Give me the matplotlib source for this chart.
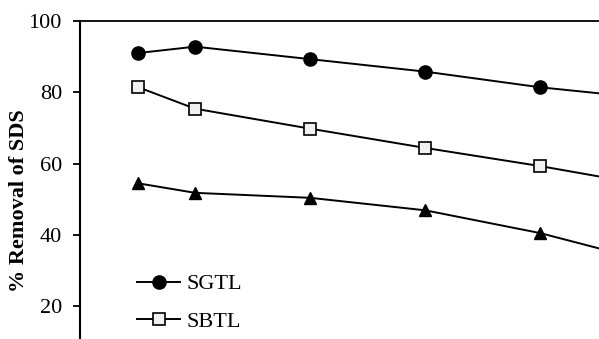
import numpy as np
import matplotlib
matplotlib.use('Agg')
import matplotlib.pyplot as plt

plt.rcParams['font.family'] = ['Liberation Serif', 'DejaVu Serif']

# x positions of the measurements (last one lies outside the visible crop)
dose = [5, 10, 20, 30, 40, 50]
sgtl = [91.0, 92.8, 89.3, 85.8, 81.4, 78.1]
sbtl = [81.5, 75.4, 69.8, 64.4, 59.3, 53.6]
third = [54.5, 51.8, 50.4, 46.9, 40.5, 32.1]
labels = ['SGTL', 'SBTL']
yticks = [20, 40, 60, 80, 100]

fig = plt.figure(figsize=(5.99, 3.39), dpi=100)
ax = fig.add_axes([80/599, 0, 1 - 80/599, 1 - 21/339])

ax.plot(dose, sgtl, '-o', color='black', lw=1.4, ms=9.5, label=labels[0])
ax.plot(dose, sbtl, '-s', color='black', lw=1.4, ms=8, mfc='#f0f0f0',
        mec='black', mew=1.2, label=labels[1])
# third series: its legend entry falls below the visible crop
ax.plot(dose, third, '-^', color='black', lw=1.4, ms=9)

ax.set_xlim(0, 45.1)
ax.set_ylim(10.8, 100)
ax.set_yticks(yticks)
ax.set_xticks([])
ax.tick_params(axis='y', direction='out', length=5, width=1.3, labelsize=16, pad=8)

ax.spines['right'].set_visible(False)
ax.spines['bottom'].set_visible(False)
ax.spines['left'].set_linewidth(1.5)
ax.spines['top'].set_linewidth(1.3)

ax.set_ylabel('% Removal of SDS', fontsize=16, fontweight='bold')
ax.yaxis.set_label_coords(-0.098, 0.434)

leg = ax.legend(loc='upper left', bbox_to_anchor=(0.11, 0.205), frameon=False,
                fontsize=16, handlelength=1.95, handletextpad=0.27,
                labelspacing=0.76, borderaxespad=0, borderpad=0)

fig.savefig('out.png', dpi=100)
